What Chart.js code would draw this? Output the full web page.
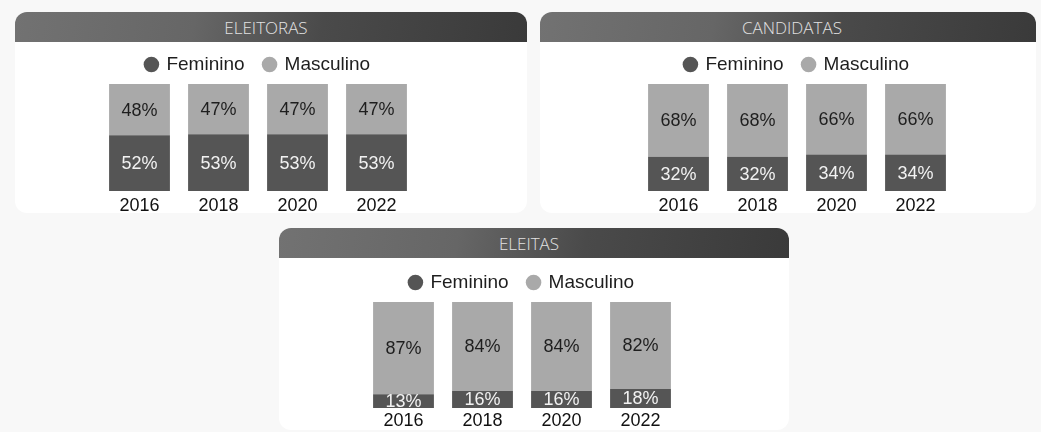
<!DOCTYPE html>
<html>
<head>
<meta charset="utf-8">
<script src="https://cdn.jsdelivr.net/npm/chart.js@4.4.0/dist/chart.umd.min.js"></script>
<style>
  body { margin: 0; width: 1041px; height: 432px; background: #f8f8f8; position: relative; overflow: hidden; }
  .panel { position: absolute; background: #fff; border-radius: 12px; overflow: hidden; }
  .head { height: 30px; line-height: 31px; text-align: center; color: #e2e2e2;
    font-family: "Open Sans", sans-serif; font-weight: 300; font-size: 17px;
    background: linear-gradient(100deg, #727272 0%, #666666 35%, #4a4a4a 60%, #3a3a3a 100%); }
  canvas { display: block; }
</style>
</head>
<body>
<div class="panel" style="left:15px;top:12px;width:512px;height:201px">
  <div class="head" style="padding-right:10px">ELEITORAS</div>
  <canvas id="c1" width="512" height="171"></canvas>
</div>
<div class="panel" style="left:540px;top:12px;width:496px;height:201px">
  <div class="head" style="padding-left:8px">CANDIDATAS</div>
  <canvas id="c2" width="496" height="171"></canvas>
</div>
<div class="panel" style="left:279px;top:228px;width:510px;height:202px">
  <div class="head" style="padding-right:10px">ELEITAS</div>
  <canvas id="c3" width="510" height="172"></canvas>
</div>
<script>
var years = ['2016', '2018', '2020', '2022'];

var eleitorasFem = [52, 53, 53, 53];
var eleitorasMasc = [48, 47, 47, 47];

var candidatasFem = [32, 32, 34, 34];
var candidatasMasc = [68, 68, 66, 66];

var eleitasFem = [13, 16, 16, 18];
var eleitasMasc = [87, 84, 84, 82];

var colors = {
  fem: '#555555',
  masc: '#a9a9a9'
};

var font = '"Liberation Sans", Arial, sans-serif';

// draws the percentage inside each segment
var segmentLabels = {
  id: 'segmentLabels',
  afterDatasetsDraw: function(chart) {
    var ctx = chart.ctx;
    ctx.save();
    ctx.font = '18px ' + font;
    ctx.textAlign = 'center';
    ctx.textBaseline = 'middle';
    chart.data.datasets.forEach(function(ds, i) {
      var meta = chart.getDatasetMeta(i);
      ctx.fillStyle = i === 0 ? '#f2f2f2' : '#1e1e1e';
      meta.data.forEach(function(bar, j) {
        var y = (bar.y + bar.base) / 2;
        ctx.fillText(ds.data[j] + '%', bar.x, y + 1);
      });
    });
    ctx.restore();
  }
};

function makeChart(id, fem, masc, padLeft, padRight, padTop, tickPad) {
  var ctx = document.getElementById(id).getContext('2d');
  return new Chart(ctx, {
    type: 'bar',
    data: {
      labels: years,
      datasets: [
        { label: 'Feminino', data: fem, backgroundColor: colors.fem },
        { label: 'Masculino', data: masc, backgroundColor: colors.masc }
      ]
    },
    options: {
      responsive: false,
      animation: false,
      layout: { padding: { left: padLeft, right: padRight, top: padTop, bottom: 0 } },
      datasets: { bar: { categoryPercentage: 1, barPercentage: 0.77 } },
      scales: {
        x: {
          stacked: true,
          grid: { display: false, drawTicks: false },
          border: { display: false },
          ticks: { color: '#111', padding: tickPad, font: { family: font, size: 18, lineHeight: 1 } },
          afterFit: function(scale) { scale.height = 22; }
        },
        y: {
          stacked: true,
          display: false,
          min: 0,
          max: 100
        }
      },
      plugins: {
        legend: {
          position: 'top',
          labels: {
            usePointStyle: true,
            pointStyle: 'circle',
            boxWidth: 11,
            boxHeight: 11,
            padding: 10,
            color: '#1e1e1e',
            font: { family: font, size: 19 },
            // a bit more room between the two entries
            generateLabels: function(chart) {
              var items = Chart.defaults.plugins.legend.labels.generateLabels(chart);
              items[0].text += '\u2002';
              return items;
            }
          }
        },
        tooltip: { enabled: false }
      }
    },
    plugins: [segmentLabels]
  });
}

window.onload = function() {
  makeChart('c1', eleitorasFem, eleitorasMasc, 85, 111, 3, 6);
  makeChart('c2', candidatasFem, candidatasMasc, 99, 81, 3, 6);
  makeChart('c3', eleitasFem, eleitasMasc, 85, 109, 5, 4);
};
</script>
</body>
</html>
